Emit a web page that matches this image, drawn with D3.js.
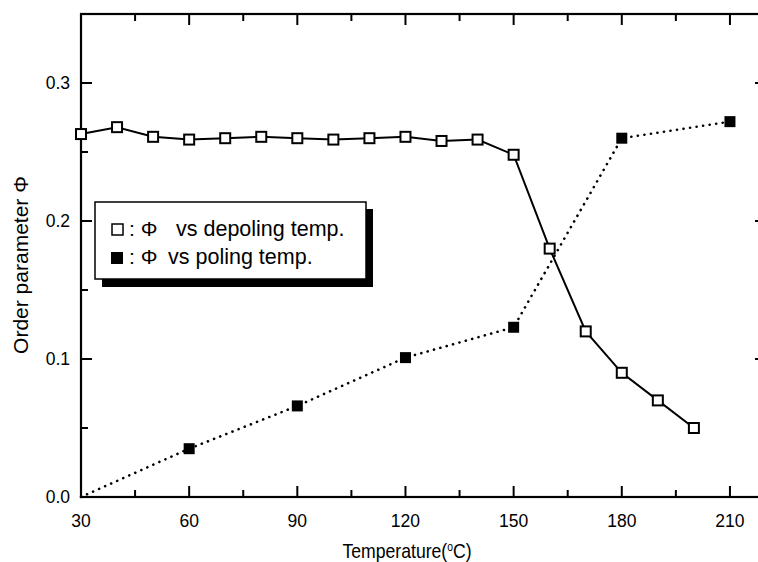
<!DOCTYPE html>
<html>
<head>
<meta charset="utf-8">
<script src="https://cdn.jsdelivr.net/npm/d3@7"></script>
<style>
  body { margin: 0; background: #fff; }
  svg text { font-family: "Liberation Sans", Arial, sans-serif; fill: #000; }
</style>
</head>
<body>
<div id="chart"></div>
<script>
// depoling temperature series (open squares)
const depolTemp = [30, 40, 50, 60, 70, 80, 90, 100, 110, 120, 130, 140, 150, 160, 170, 180, 190, 200];
const depolPhi = [0.263, 0.268, 0.261, 0.259, 0.260, 0.261, 0.260, 0.259, 0.260, 0.261, 0.258, 0.259, 0.248, 0.180, 0.120, 0.090, 0.070, 0.050];

// poling temperature series (filled squares)
const polTemp = [30, 60, 90, 120, 150, 180, 210];
const polPhi = [0.0, 0.035, 0.066, 0.101, 0.123, 0.260, 0.272];

const xTicks = [30, 60, 90, 120, 150, 180, 210];
const yTicks = [0.0, 0.1, 0.2, 0.3];

const W = 758, H = 562;
const pL = 81, pR = 766, pT = 14, pB = 497;

const svg = d3.select("#chart").append("svg")
    .attr("width", W)
    .attr("height", H);

const x = d3.scaleLinear().domain([30, 220]).range([pL, pR]);
const y = d3.scaleLinear().domain([0, 0.35]).range([pB, pT]);

const minorX = d3.range(45, 220, 30);
const minorY = [0.05, 0.15, 0.25];

// frame
svg.append("rect")
    .attr("x", pL).attr("y", pT)
    .attr("width", pR - pL).attr("height", pB - pT)
    .attr("fill", "none").attr("stroke", "#000").attr("stroke-width", 2.2);

// inward ticks on all four sides
function tickLines(vals, len, axis) {
    vals.forEach(v => {
        if (axis === "x") {
            svg.append("line").attr("x1", x(v)).attr("x2", x(v)).attr("y1", pB).attr("y2", pB - len)
                .attr("stroke", "#000").attr("stroke-width", 2);
            svg.append("line").attr("x1", x(v)).attr("x2", x(v)).attr("y1", pT).attr("y2", pT + len)
                .attr("stroke", "#000").attr("stroke-width", 2);
        } else {
            svg.append("line").attr("y1", y(v)).attr("y2", y(v)).attr("x1", pL).attr("x2", pL + len)
                .attr("stroke", "#000").attr("stroke-width", 2);
            svg.append("line").attr("y1", y(v)).attr("y2", y(v)).attr("x1", pR).attr("x2", pR - len)
                .attr("stroke", "#000").attr("stroke-width", 2);
        }
    });
}
tickLines(xTicks, 11, "x");
tickLines(minorX, 7, "x");
tickLines(yTicks.slice(1), 11, "y");
tickLines(minorY, 7, "y");

// tick labels
svg.selectAll(".xl").data(xTicks).enter().append("text")
    .attr("x", d => x(d)).attr("y", pB + 30)
    .attr("text-anchor", "middle").attr("font-size", 17.5)
    .text(d => d);

svg.selectAll(".yl").data(yTicks).enter().append("text")
    .attr("x", pL - 11).attr("y", d => y(d) + 6)
    .attr("text-anchor", "end").attr("font-size", 17.5)
    .text(d => d.toFixed(1));

// axis titles (x title is a condensed face in the original)
const xt = svg.append("text")
    .attr("transform", "translate(407,558) scale(0.86,1)")
    .attr("text-anchor", "middle").attr("font-size", 20.5);
xt.append("tspan").text("Temperature(");
xt.append("tspan").attr("font-size", 12).attr("dy", -7).text("o");
xt.append("tspan").attr("dy", 7).text("C)");

svg.append("text")
    .attr("transform", "translate(28,265) rotate(-90)")
    .attr("text-anchor", "middle").attr("font-size", 21)
    .text("Order parameter \u03A6");

// lines
const depol = depolTemp.map((t, i) => [t, depolPhi[i]]);
const pol = polTemp.map((t, i) => [t, polPhi[i]]);
const line = d3.line().x(d => x(d[0])).y(d => y(d[1]));

svg.append("path").datum(pol).attr("d", line)
    .attr("fill", "none").attr("stroke", "#000").attr("stroke-width", 2.6)
    .attr("stroke-dasharray", "0.1 6.5").attr("stroke-linecap", "round");

svg.append("path").datum(depol).attr("d", line)
    .attr("fill", "none").attr("stroke", "#000").attr("stroke-width", 2);

const ms = 10;
svg.selectAll(".open").data(depol).enter().append("rect")
    .attr("x", d => x(d[0]) - ms / 2).attr("y", d => y(d[1]) - ms / 2)
    .attr("width", ms).attr("height", ms)
    .attr("fill", "#fff").attr("stroke", "#000").attr("stroke-width", 2);

svg.selectAll(".filled").data(pol.slice(1)).enter().append("rect")
    .attr("x", d => x(d[0]) - ms / 2 - 0.5).attr("y", d => y(d[1]) - ms / 2 - 0.5)
    .attr("width", ms + 1).attr("height", ms + 1)
    .attr("fill", "#000");

// legend with drop shadow
const lg = svg.append("g");
lg.append("rect").attr("x", 102).attr("y", 209).attr("width", 271).attr("height", 78).attr("fill", "#000");
lg.append("rect").attr("x", 95).attr("y", 202).attr("width", 271).attr("height", 77)
    .attr("fill", "#fff").attr("stroke", "#000").attr("stroke-width", 1.5);

lg.append("rect").attr("x", 112).attr("y", 224).attr("width", 11).attr("height", 11)
    .attr("fill", "#fff").attr("stroke", "#000").attr("stroke-width", 1.5);
lg.append("rect").attr("x", 111).attr("y", 252).attr("width", 12).attr("height", 12)
    .attr("fill", "#000");

lg.append("text").attr("x", 129).attr("y", 236).attr("font-size", 21).text(": \u03A6");
lg.append("text").attr("x", 176).attr("y", 236).attr("font-size", 21.5).text("vs depoling temp.");
lg.append("text").attr("x", 129).attr("y", 264).attr("font-size", 21).text(": \u03A6");
lg.append("text").attr("x", 168).attr("y", 264).attr("font-size", 21.5).text("vs poling temp.");
</script>
</body>
</html>
